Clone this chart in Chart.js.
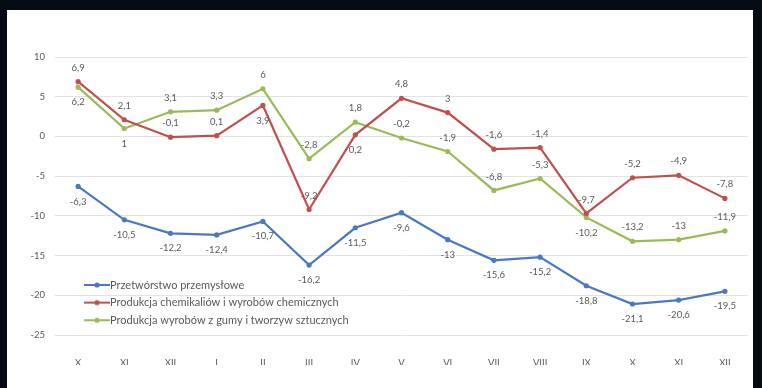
<!DOCTYPE html>
<html>
<head>
<meta charset="utf-8">
<script src="https://cdn.jsdelivr.net/npm/chart.js@4.4.1/dist/chart.umd.min.js"></script>
<style>
  html, body { margin: 0; padding: 0; background: #050b12; }
  #panel { position: absolute; left: 7px; top: 10px; width: 746px; height: 378px; background: #fff; }
</style>
</head>
<body>
<div id="panel"><canvas id="chart" width="746" height="378"></canvas></div>
<script>
const months = ['X', 'XI', 'XII', 'I', 'II', 'III', 'IV', 'V', 'VI', 'VII', 'VIII', 'IX', 'X', 'XI', 'XII'];
const yTicks = [10, 5, 0, -5, -10, -15, -20, -25];

const przetworstwo = [-6.3, -10.5, -12.2, -12.4, -10.7, -16.2, -11.5, -9.6, -13, -15.6, -15.2, -18.8, -21.1, -20.6, -19.5];
const chemikalia = [6.9, 2.1, -0.1, 0.1, 3.9, -9.2, 0.2, 4.8, 3, -1.6, -1.4, -9.7, -5.2, -4.9, -7.8];
const guma = [6.2, 1, 3.1, 3.3, 6, -2.8, 1.8, -0.2, -1.9, -6.8, -5.3, -10.2, -13.2, -13, -11.9];

// where each value label sits: 'a' above the point, 'b' below
const przetworstwoPos = 'bbbbbbbbbbbbbbb';
const chemikaliaPos = 'aaaababaaaaaaaa';
const gumaPos = 'bbaaaaaaaaabaaa';

const textColor = '#595959';
const fontFamily = 'Lato, "Open Sans", sans-serif';

// little line-with-dot swatch for the legend
function swatch(color) {
  const c = document.createElement('canvas');
  c.width = 28; c.height = 10;
  const g = c.getContext('2d');
  g.strokeStyle = color; g.lineWidth = 2;
  g.beginPath(); g.moveTo(1, 5); g.lineTo(27, 5); g.stroke();
  g.fillStyle = color;
  g.beginPath(); g.arc(14, 5, 2.6, 0, Math.PI * 2); g.fill();
  return c;
}

const valueLabels = {
  id: 'valueLabels',
  afterDatasetsDraw(chart) {
    const ctx = chart.ctx;
    ctx.save();
    ctx.font = '9.5px ' + fontFamily;
    ctx.fillStyle = textColor;
    ctx.textAlign = 'center';
    ctx.textBaseline = 'middle';
    chart.data.datasets.forEach((ds, i) => {
      chart.getDatasetMeta(i).data.forEach((pt, j) => {
        const dy = ds.labelPos[j] === 'a' ? -14 : 15;
        ctx.fillText(String(ds.data[j]).replace('.', ','), pt.x, pt.y + dy);
      });
    });
    ctx.restore();
  }
};

const innerLegend = {
  id: 'innerLegend',
  afterDraw(chart) {
    const ctx = chart.ctx;
    const a = chart.chartArea;
    ctx.save();
    ctx.font = '11px ' + fontFamily;
    ctx.fillStyle = textColor;
    ctx.textBaseline = 'middle';
    chart.data.datasets.forEach((ds, i) => {
      const y = a.bottom - 50 + i * 17.6;
      ctx.drawImage(swatch(ds.borderColor), a.left + 28, y - 5);
      ctx.fillText(ds.label, a.left + 55, y);
    });
    ctx.restore();
  }
};

new Chart(document.getElementById('chart'), {
  type: 'line',
  data: {
    labels: months,
    datasets: [{
      label: 'Przetwórstwo przemysłowe',
      data: przetworstwo,
      labelPos: przetworstwoPos,
      borderColor: '#4a78c2',
      backgroundColor: '#4a78c2'
    }, {
      label: 'Produkcja chemikaliów i wyrobów chemicznych',
      data: chemikalia,
      labelPos: chemikaliaPos,
      borderColor: '#c0504d',
      backgroundColor: '#c0504d'
    }, {
      label: 'Produkcja wyrobów z gumy i tworzyw sztucznych',
      data: guma,
      labelPos: gumaPos,
      borderColor: '#9bbb59',
      backgroundColor: '#9bbb59'
    }]
  },
  options: {
    responsive: false,
    animation: false,
    elements: {
      line: { borderWidth: 2.2, tension: 0 },
      point: { radius: 2.6, borderWidth: 0 }
    },
    layout: { padding: { top: 47, right: 5, left: 0, bottom: 23 } },
    plugins: {
      legend: { display: false },
      tooltip: { enabled: false }
    },
    scales: {
      x: {
        offset: true,
        grid: { display: false },
        border: { display: false },
        ticks: { color: textColor, font: { family: fontFamily, size: 9.5 }, padding: 14, maxRotation: 0, autoSkip: false },
        afterFit(scale) { scale.height = 30; }
      },
      y: {
        min: -25,
        max: 10,
        afterBuildTicks(scale) { scale.ticks = yTicks.map(v => ({ value: v })); },
        grid: { color: '#e3e3e3', drawTicks: false },
        border: { display: false },
        ticks: { color: textColor, font: { family: fontFamily, size: 9.5 }, padding: 10 },
        afterFit(scale) { scale.width = 48; }
      }
    }
  },
  plugins: [valueLabels, innerLegend]
});
</script>
</body>
</html>
